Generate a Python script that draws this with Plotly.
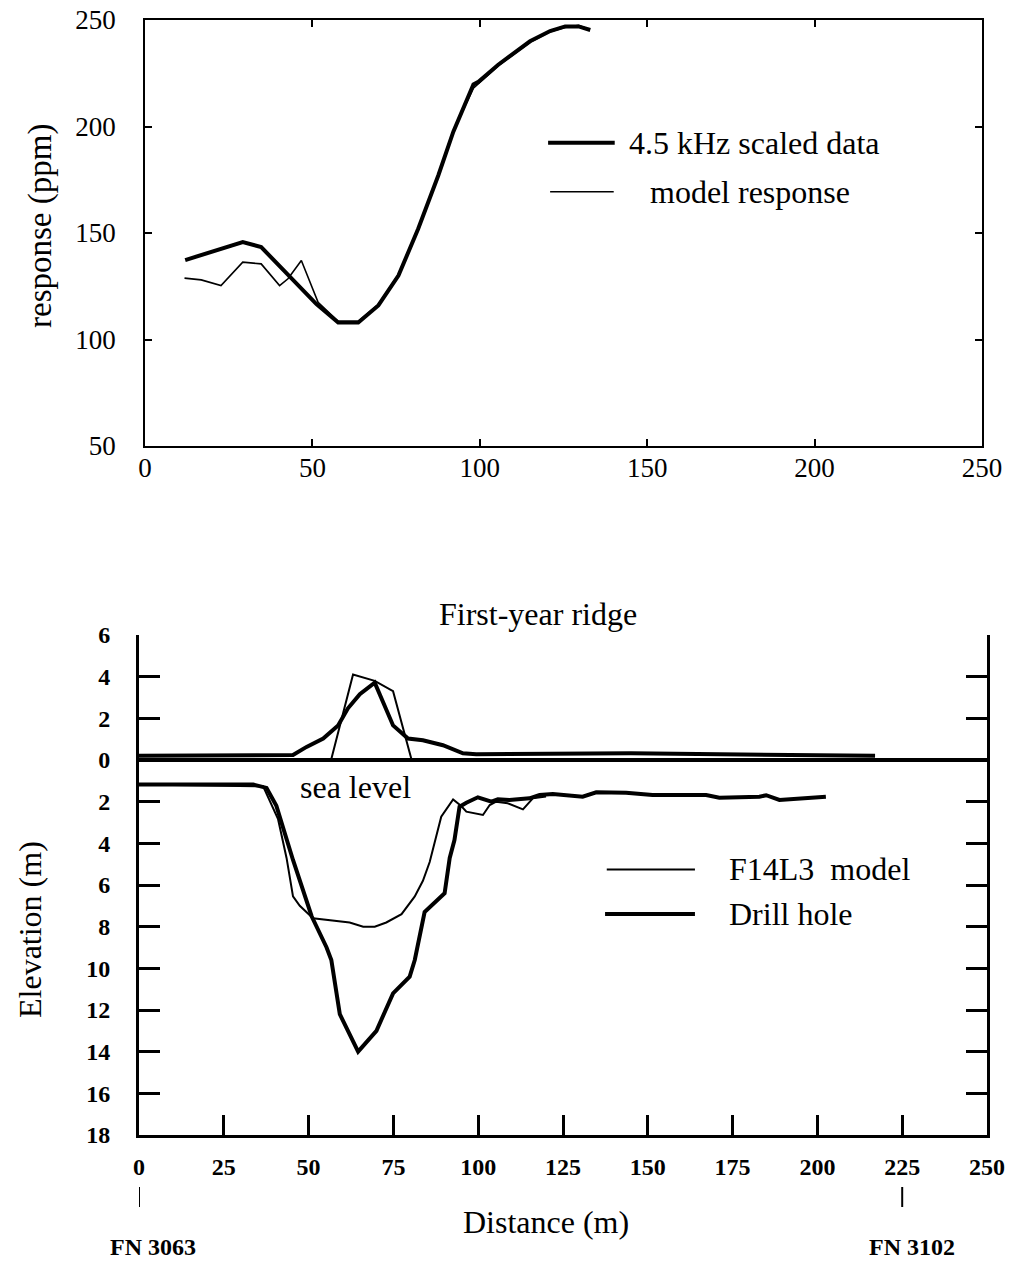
import plotly.graph_objects as go

W, H = 1010, 1261

# ---------------- top chart data ----------------
data_x = [12, 22.7, 29.2, 34.7, 51.2, 57.7, 63.7, 69.7, 75.7, 81.6, 87.6, 92.1,
          98.1, 99.6, 105.5, 115, 121, 125.5, 129.5, 133]
data_y = [137.3, 142.5, 145.7, 143.4, 116.6, 108, 108, 116, 130, 152, 177, 197.6,
          219.7, 221, 229, 240, 244.8, 247, 247, 245.3]
model_x = [11.8, 16.8, 22.7, 29.2, 34.7, 40.2, 42.7, 46.7, 51.7, 57.7, 63.7, 69.7,
           75.7, 81.6, 87.6, 92.1, 98.1, 105.5, 115, 121, 125.5, 129.5, 132]
model_y = [128.8, 128, 125.3, 136.3, 135.5, 125.3, 128.5, 137.1, 117.5, 108.5, 108.5, 116.5,
           130.5, 152.5, 177.5, 198, 218, 228.5, 239.5, 244.5, 246.5, 247.5, 246]
top_xticks = [0, 50, 100, 150, 200, 250]
top_yticks = [50, 100, 150, 200, 250]

# ---------------- bottom chart data ----------------
sail_drill_x = [0, 33.6, 45.4, 49.4, 54.3, 58.7, 61.6, 65.1, 69.5, 74.9, 79.3, 83.7,
                89.6, 95.5, 99.4, 145, 217]
sail_drill_y = [0.2, 0.24, 0.24, 0.63, 1.03, 1.66, 2.48, 3.16, 3.71, 1.66, 1.03, 0.95,
                0.71, 0.32, 0.28, 0.32, 0.2]
sail_model_x = [0, 56.7, 63.1, 69.5, 74.9, 80.3, 115]
sail_model_y = [0.05, 0.05, 4.1, 3.8, 3.3, 0.05, 0.05]
keel_drill_x = [0, 33.7, 37.6, 40.5, 45.4, 48.9, 50.9, 55.3, 56.7, 59.2, 64.6, 70.0,
                74.9, 79.8, 81.3, 84.2, 90.1, 91.6, 93.0, 94.5, 96.5, 99.9, 103.9,
                105.8, 109.2, 115.1, 118.1, 122, 130.8, 134.8, 143.6, 151.4, 167.2,
                171.1, 182.9, 184.9, 188.8, 202.5]
keel_drill_y = [-1.18, -1.18, -1.34, -2.2, -4.8, -6.55, -7.5, -9.0, -9.6, -12.2, -14.0, -13.0,
                -11.2, -10.4, -9.6, -7.3, -6.4, -4.7, -3.84, -2.24, -2.05, -1.79, -2.0,
                -1.89, -1.92, -1.84, -1.68, -1.63, -1.76, -1.55, -1.57, -1.68, -1.68,
                -1.81, -1.76, -1.69, -1.92, -1.76]
keel_model_x = [0, 36.6, 41, 43.5, 45.4, 47.4, 51.3, 57.2, 62.1, 66.1, 69.5, 72.9, 77.4,
                81.3, 83.7, 85.7, 89.1, 92.6, 95.0, 96.5, 101.4, 103.4, 105.3, 108.7,
                113.2, 116.1, 120]
keel_model_y = [-1.18, -1.26, -2.84, -4.7, -6.55, -7.0, -7.6, -7.7, -7.8, -8.0, -8.0, -7.8, -7.4,
                -6.55, -5.8, -4.9, -2.72, -1.89, -2.21, -2.48, -2.64, -2.16, -2.0, -2.08,
                -2.37, -1.84, -1.75]
sea_x = [0, 250]
sea_y = [0, 0]
bot_xticks = [0, 25, 50, 75, 100, 125, 150, 175, 200, 225, 250]
bot_yticks = [6, 4, 2, 0, -2, -4, -6, -8, -10, -12, -14, -16, -18]
bot_yticktext = ["6", "4", "2", "0", "2", "4", "6", "8", "10", "12", "14", "16", "18"]

SERIF = "Liberation Serif, Times New Roman, serif"
BLACK = "black"

fig = go.Figure()

# top traces
fig.add_trace(go.Scatter(x=model_x, y=model_y, mode="lines", xaxis="x", yaxis="y",
                         line=dict(color=BLACK, width=1.6), name="model response"))
fig.add_trace(go.Scatter(x=data_x, y=data_y, mode="lines", xaxis="x", yaxis="y",
                         line=dict(color=BLACK, width=4), name="4.5 kHz scaled data"))

# bottom traces
fig.add_trace(go.Scatter(x=sea_x, y=sea_y, mode="lines", xaxis="x2", yaxis="y2",
                         line=dict(color=BLACK, width=4), name="sea level"))
fig.add_trace(go.Scatter(x=sail_model_x, y=sail_model_y, mode="lines", xaxis="x2", yaxis="y2",
                         line=dict(color=BLACK, width=2), name="F14L3 model"))
fig.add_trace(go.Scatter(x=keel_model_x, y=keel_model_y, mode="lines", xaxis="x2", yaxis="y2",
                         line=dict(color=BLACK, width=2), name="F14L3 model"))
fig.add_trace(go.Scatter(x=sail_drill_x, y=sail_drill_y, mode="lines", xaxis="x2", yaxis="y2",
                         line=dict(color=BLACK, width=4), name="Drill hole"))
fig.add_trace(go.Scatter(x=keel_drill_x, y=keel_drill_y, mode="lines", xaxis="x2", yaxis="y2",
                         line=dict(color=BLACK, width=4), name="Drill hole"))

def px_x(p):
    return p / W

def px_y(p):
    return 1 - p / H

top_axis_common = dict(showline=True, linecolor=BLACK, linewidth=1.5, mirror="ticks",
                       ticks="inside", ticklen=7, tickwidth=1.5, tickcolor=BLACK,
                       showgrid=False, zeroline=False, automargin=False,
                       tickfont=dict(family=SERIF, size=27, color=BLACK))

bot_tickfont = dict(family=SERIF, size=24, color=BLACK, weight="bold")

fig.update_layout(
    width=W, height=H, margin=dict(l=0, r=0, t=0, b=0, autoexpand=False),
    paper_bgcolor="white", plot_bgcolor="white", showlegend=False,
    xaxis=dict(domain=[px_x(145), px_x(982)], range=[0, 250], anchor="y",
               tickvals=top_xticks, ticklabelstandoff=-3, **top_axis_common),
    yaxis=dict(domain=[px_y(446), px_y(20)], range=[50, 250], anchor="x",
               tickvals=top_yticks, ticklabelstandoff=22, **top_axis_common),
    xaxis2=dict(domain=[px_x(139), px_x(987)], range=[0, 250], anchor="y2",
                showline=True, linecolor=BLACK, linewidth=3, mirror=False,
                ticks="inside", ticklen=20, tickwidth=2.5, tickcolor=BLACK,
                showgrid=False, zeroline=False, automargin=False, tickvals=bot_xticks,
                ticklabelstandoff=8, tickfont=bot_tickfont),
    yaxis2=dict(domain=[px_y(1135), px_y(635)], range=[-18, 6], anchor="x2",
                showline=True, linecolor=BLACK, linewidth=3, mirror="ticks",
                ticks="inside", ticklen=21, tickwidth=3, tickcolor=BLACK,
                showgrid=False, zeroline=False, automargin=False, tickvals=bot_yticks,
                ticktext=bot_yticktext, ticklabelstandoff=21, tickfont=bot_tickfont),
)

shapes = []
# top legend samples (data coords of top axes)
shapes.append(dict(type="line", xref="x", yref="y", x0=120.4, x1=140.3, y0=192.4, y1=192.4,
                   line=dict(color=BLACK, width=4)))
shapes.append(dict(type="line", xref="x", yref="y", x0=121.0, x1=140.0, y0=169.4, y1=169.4,
                   line=dict(color=BLACK, width=1.6)))
# bottom legend samples
shapes.append(dict(type="line", xref="x2", yref="y2", x0=137.9, x1=163.9, y0=-5.25, y1=-5.25,
                   line=dict(color=BLACK, width=2)))
shapes.append(dict(type="line", xref="x2", yref="y2", x0=137.4, x1=163.9, y0=-7.39, y1=-7.39,
                   line=dict(color=BLACK, width=4)))
# FN marker lines below x axis
for xv in [0, 225]:
    shapes.append(dict(type="line", xref="x2", yref="paper", x0=xv, x1=xv,
                       y0=px_y(1207), y1=px_y(1187), line=dict(color=BLACK, width=2)))

TXT = dict(family=SERIF, size=32, color=BLACK)
annotations = [
    dict(text="4.5 kHz scaled data", xref="x", yref="y", x=144.0, y=192.4,
         xanchor="left", yanchor="middle", showarrow=False, font=TXT),
    dict(text="model response", xref="x", yref="y", x=150.3, y=169.4,
         xanchor="left", yanchor="middle", showarrow=False, font=TXT),
    dict(text="response (ppm)", xref="paper", yref="paper", x=px_x(40), y=px_y(226),
         textangle=-90, xanchor="center", yanchor="middle", showarrow=False,
         font=dict(family=SERIF, size=33, color=BLACK)),
    dict(text="First-year ridge", xref="paper", yref="paper", x=px_x(538), y=px_y(614),
         xanchor="center", yanchor="middle", showarrow=False, font=TXT),
    dict(text="sea level", xref="x2", yref="y2", x=63.7, y=-1.28,
         xanchor="center", yanchor="middle", showarrow=False, font=TXT),
    dict(text="F14L3  model", xref="x2", yref="y2", x=173.3, y=-5.25,
         xanchor="left", yanchor="middle", showarrow=False, font=TXT),
    dict(text="Drill hole", xref="x2", yref="y2", x=173.3, y=-7.39,
         xanchor="left", yanchor="middle", showarrow=False, font=TXT),
    dict(text="Elevation (m)", xref="paper", yref="paper", x=px_x(30), y=px_y(930),
         textangle=-90, xanchor="center", yanchor="middle", showarrow=False, font=TXT),
    dict(text="Distance (m)", xref="paper", yref="paper", x=px_x(546), y=px_y(1222),
         xanchor="center", yanchor="middle", showarrow=False, font=TXT),
    dict(text="FN 3063", xref="x2", yref="paper", x=4, y=px_y(1247),
         xanchor="center", yanchor="middle", showarrow=False,
         font=dict(family=SERIF, size=24, color=BLACK, weight="bold")),
    dict(text="FN 3102", xref="x2", yref="paper", x=228, y=px_y(1247),
         xanchor="center", yanchor="middle", showarrow=False,
         font=dict(family=SERIF, size=24, color=BLACK, weight="bold")),
]
fig.update_layout(shapes=shapes, annotations=annotations)

fig.write_html("out.html")
